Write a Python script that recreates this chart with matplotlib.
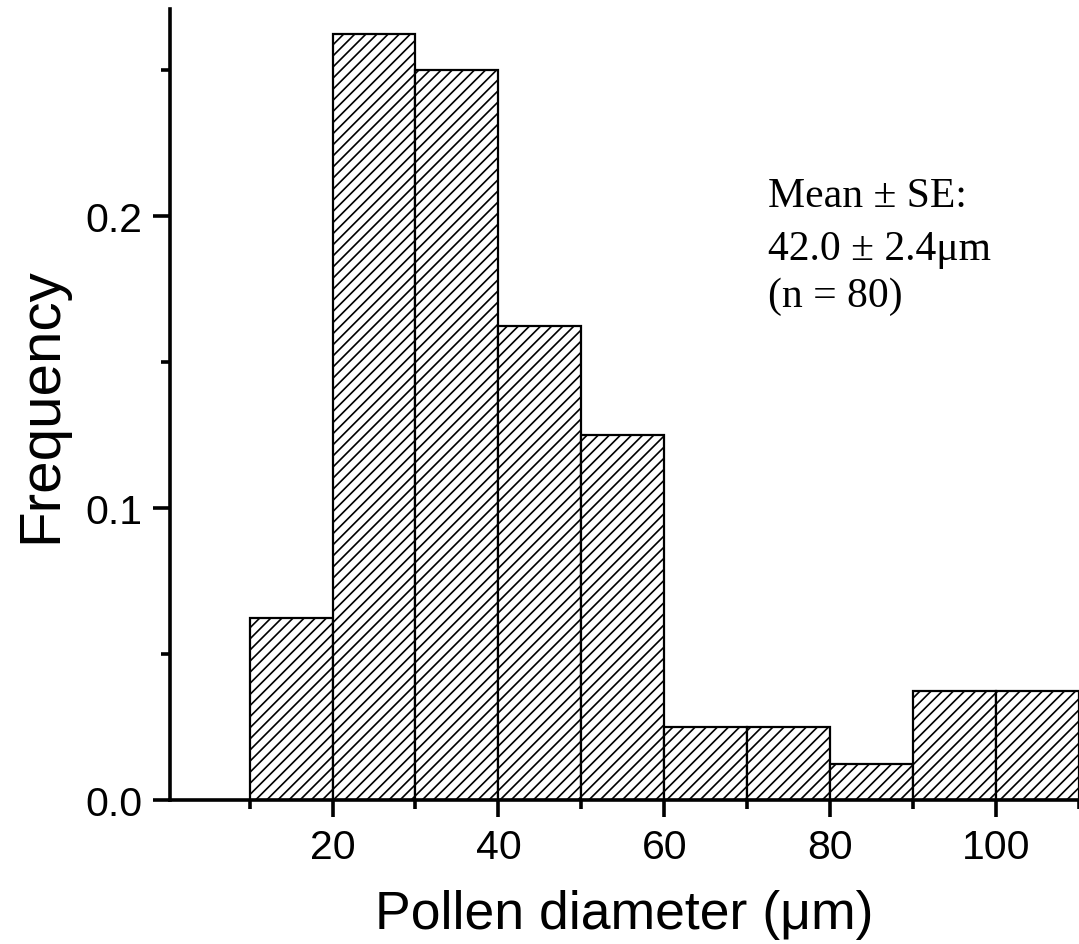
import numpy as np
import matplotlib
matplotlib.use("Agg")
import matplotlib.pyplot as plt
from matplotlib.ticker import MultipleLocator

# histogram bins (left edges, um) and relative frequency, n = 80
bin_left = [10, 20, 30, 40, 50, 60, 70, 80, 90, 100]
bin_width = 10
frequency = [0.0625, 0.2625, 0.25, 0.1625, 0.125, 0.025, 0.025, 0.0125, 0.0375, 0.0375]

note_lines = ["Mean \u00b1 SE:", "42.0 \u00b1 2.4\u03bcm", "(n = 80)"]

plt.rcParams['font.family'] = ['Liberation Sans', 'DejaVu Sans']
plt.rcParams['hatch.linewidth'] = 1.2

fig = plt.figure(figsize=(10.79, 9.45), dpi=100)
ax = fig.add_axes([170 / 1079, 1 - 801 / 945, 909 / 1079, 791 / 945])

ax.bar(bin_left, frequency, width=bin_width, align='edge',
       color='white', edgecolor='black', linewidth=1.6, hatch='///')

ax.set_xlim(0.4, 110)
ax.set_ylim(0, 0.2709)

ax.xaxis.set_major_locator(MultipleLocator(20))
ax.xaxis.set_minor_locator(MultipleLocator(10))
ax.yaxis.set_major_locator(MultipleLocator(0.1))
ax.yaxis.set_minor_locator(MultipleLocator(0.05))
ax.yaxis.set_major_formatter(plt.FormatStrFormatter('%.1f'))
ax.set_xticks([20, 40, 60, 80, 100])

for side in ['top', 'right']:
    ax.spines[side].set_visible(False)
for side in ['left', 'bottom']:
    ax.spines[side].set_linewidth(2.6)

ax.tick_params(which='major', direction='out', length=12, width=2.6,
               labelsize=29.5, pad=8)
ax.tick_params(which='minor', direction='out', length=6.5, width=2.6)

ax.set_xlabel('Pollen diameter (\u03bcm)', fontsize=38.5)
ax.set_ylabel('Frequency', fontsize=42)
ax.xaxis.set_label_coords(0.5, -0.1125)
ax.yaxis.set_label_coords(-0.112, 0.5)

ys = [0.751, 0.684, 0.6245]
for line, y in zip(note_lines, ys):
    ax.text(0.658, y, line, transform=ax.transAxes, fontsize=30,
            family=['Liberation Serif', 'DejaVu Serif'], va='baseline')

fig.savefig('out.png', dpi=100)
